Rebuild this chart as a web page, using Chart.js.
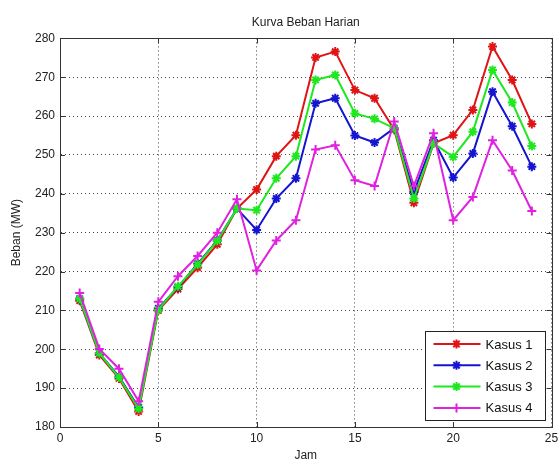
<html>
<head>
<script src="https://cdn.jsdelivr.net/npm/chart.js@4/dist/chart.umd.min.js"></script>
<style>
  body { margin: 0; background: #fff; }
</style>
</head>
<body>
<canvas id="myChart" width="558" height="463"></canvas>
<script>
// jam ke-1 .. ke-24
var jam = [1,2,3,4,5,6,7,8,9,10,11,12,13,14,15,16,17,18,19,20,21,22,23,24];
var namaKasus = ['Kasus 1', 'Kasus 2', 'Kasus 3', 'Kasus 4'];
var kasus1 = [212.5,198.5,192.5,184,210,215.5,221,227,236.2,241.1,249.7,255.1,275.1,276.6,266.7,264.6,256.5,237.7,253,255.1,261.6,277.9,269.3,258];
var kasus2 = [213,199,193,185,210.5,216,222,228,236.2,230.7,238.8,244,263.3,264.6,255,253.2,256.9,240.5,253.8,244.2,250.4,266.3,257.4,247];
var kasus3 = [213,199,192.8,184.7,210.2,216.2,221.8,227.9,236.2,235.8,244,249.7,269.3,270.6,260.7,259.3,256.9,238.8,253,249.5,256,271.9,263.5,252.3];
var kasus4 = [214.5,200.1,195,186.6,212.2,218.8,224,230,238.6,220.3,228,233.2,251.4,252.5,243.5,242,258.6,242,255.6,233.2,239.2,253.8,246,235.6];
var xTicks = [0, 5, 10, 15, 20, 25];
var yTicks = [180, 190, 200, 210, 220, 230, 240, 250, 260, 270, 280];

var warna = ['#e01414', '#1414d2', '#1ee81e', '#e022e0'];
var marker = ['star', 'star', 'star', 'cross'];

function toXY(vals) {
    return vals.map(function(v, i) { return { x: jam[i], y: v }; });
}

var semua = [kasus1, kasus2, kasus3, kasus4];
var datasets = semua.map(function(vals, i) {
    return {
        label: namaKasus[i],
        data: toXY(vals),
        borderColor: warna[i],
        backgroundColor: warna[i],
        borderWidth: 2,
        pointStyle: marker[i],
        pointRadius: 4.5,
        pointBorderWidth: 2,
        fill: false,
        tension: 0,
        order: 4 - i   // Kasus 4 paling atas, seperti di matlab
    };
});

// kotak axes + tick kecil di dalam (gaya matlab) + legenda di dalam plot
var kotakPlugin = {
    id: 'kotak',
    afterDraw: function(chart) {
        var ctx = chart.ctx;
        var a = chart.chartArea;
        var xs = chart.scales.x, ys = chart.scales.y;
        ctx.save();
        ctx.strokeStyle = '#333';
        ctx.lineWidth = 1;
        ctx.strokeRect(Math.round(a.left) + 0.5, Math.round(a.top) + 0.5,
                       Math.round(a.right - a.left), Math.round(a.bottom - a.top));
        ctx.beginPath();
        xTicks.forEach(function(t) {
            var px = Math.round(xs.getPixelForValue(t)) + 0.5;
            ctx.moveTo(px, a.bottom); ctx.lineTo(px, a.bottom - 5);
            ctx.moveTo(px, a.top); ctx.lineTo(px, a.top + 5);
        });
        yTicks.forEach(function(t) {
            var py = Math.round(ys.getPixelForValue(t)) + 0.5;
            ctx.moveTo(a.left, py); ctx.lineTo(a.left + 5, py);
            ctx.moveTo(a.right, py); ctx.lineTo(a.right - 5, py);
        });
        ctx.stroke();

        // legenda
        var w = 120, h = 89;
        var lx = Math.round(a.right - 7 - w) + 0.5;
        var ly = Math.round(a.bottom - 7 - h) + 0.5;
        ctx.fillStyle = '#fff';
        ctx.fillRect(lx, ly, w, h);
        ctx.strokeStyle = '#222';
        ctx.strokeRect(lx, ly, w, h);
        ctx.font = '13px Arial, "Liberation Sans", sans-serif';
        ctx.textBaseline = 'middle';
        chart.data.datasets.forEach(function(ds, i) {
            var cy = ly + 12.5 + i * 21.3;
            ctx.strokeStyle = ds.borderColor;
            ctx.lineWidth = 2;
            ctx.beginPath();
            ctx.moveTo(lx + 8, cy); ctx.lineTo(lx + 55, cy);
            ctx.stroke();
            Chart.helpers.drawPoint(ctx, {
                pointStyle: ds.pointStyle, radius: 4.5, borderWidth: 2, rotation: 0
            }, lx + 31, cy);
            ctx.fillStyle = '#111';
            ctx.fillText(ds.label, lx + 60, cy + 1);
        });
        ctx.restore();
    }
};

var ctx = document.getElementById('myChart').getContext('2d');
new Chart(ctx, {
    type: 'line',
    data: { datasets: datasets },
    options: {
        responsive: false,
        animation: false,
        layout: { padding: { left: 0, right: 6, top: 0, bottom: 0 } },
        plugins: {
            legend: { display: false },
            tooltip: { enabled: false },
            title: {
                display: true,
                text: 'Kurva Beban Harian',
                fullSize: false,
                color: '#222',
                font: { family: 'Arial, "Liberation Sans", sans-serif', size: 12, weight: 'normal' },
                padding: { top: 15, bottom: 9 }
            }
        },
        scales: {
            x: {
                type: 'linear',
                min: 0, max: 25,
                afterBuildTicks: function(s) { s.ticks = xTicks.map(function(v) { return { value: v }; }); },
                afterFit: function(s) {
                    s.height = 36;
                    s.paddingLeft = 0;
                    s.paddingRight = 0;
                },
                grid: { color: '#444', lineWidth: 1, drawTicks: false },
                border: { display: true, color: '#333', width: 1, dash: [1, 3] },
                ticks: {
                    color: '#222', padding: 4,
                    font: { family: 'Arial, "Liberation Sans", sans-serif', size: 12 }
                },
                title: {
                    display: true, text: 'Jam', color: '#222',
                    font: { family: 'Arial, "Liberation Sans", sans-serif', size: 12 },
                    padding: { top: 3, bottom: 0 }
                }
            },
            y: {
                min: 180, max: 280,
                afterBuildTicks: function(s) { s.ticks = yTicks.map(function(v) { return { value: v }; }); },
                afterFit: function(s) {
                    s.width = 60;
                    s.paddingTop = 0;
                    s.paddingBottom = 0;
                },
                grid: { color: '#444', lineWidth: 1, drawTicks: false },
                border: { display: true, color: '#333', width: 1, dash: [1, 3] },
                ticks: {
                    color: '#222', padding: 5,
                    font: { family: 'Arial, "Liberation Sans", sans-serif', size: 12 }
                },
                title: {
                    display: true, text: 'Beban (MW)', color: '#222',
                    font: { family: 'Arial, "Liberation Sans", sans-serif', size: 12 },
                    padding: { top: 9, bottom: 0 }
                }
            }
        }
    },
    plugins: [kotakPlugin]
});
</script>
</body>
</html>
